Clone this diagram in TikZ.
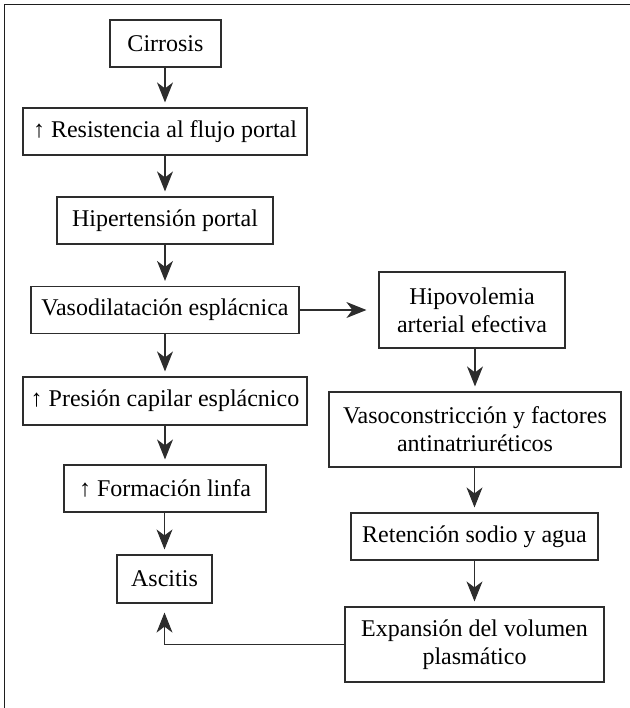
\documentclass[tikz,border=0pt]{standalone}
\usepackage{fontspec}
\setmainfont{Liberation Serif}
\usepackage{tikz}
\usetikzlibrary{arrows.meta}
\definecolor{boxline}{RGB}{45,45,45}
\definecolor{frameline}{RGB}{30,30,30}

\begin{document}
\begin{tikzpicture}[x=0.5pt, y=-0.5pt,
  box/.style={draw=boxline, line width=0.6pt, minimum height=23.5pt, inner sep=0pt,
    align=center, font=\fontsize{12}{14}\selectfont},
  flow/.style={draw=boxline, line width=0.6pt, shorten >=2.5pt,
    -{Stealth[length=10pt, width=8pt, inset=3pt]}}]
  \useasboundingbox (0,0) rectangle (630,708);
  \draw[frameline, line width=0.9pt] (4.5,708) -- (4.5,4.5) -- (630,4.5);
  \node[box, minimum width=55.5pt] (cirrosis) at (165.5,43.5) {Cirrosis};
  \node[box, minimum width=142pt] (resistencia) at (165,131.5) {↑ Resistencia al flujo portal};
  \node[box, minimum width=108pt] (hipertension) at (165,220.5) {Hipertensión portal};
  \node[box, minimum width=134pt] (vasodilatacion) at (165,310) {Vasodilatación esplácnica};
  \node[box, minimum width=142pt, minimum height=24pt] (presion) at (165,401) {↑ Presión capilar esplácnico};
  \node[box, minimum width=101pt] (linfa) at (165,488.5) {↑ Formación linfa};
  \node[box, minimum width=47.5pt, minimum height=24pt] (ascitis) at (164.5,579) {Ascitis};
  \node[box, minimum width=93pt, minimum height=38pt] (hipovolemia) at (472,310) {Hipovolemia\\arterial efectiva};
  \node[box, minimum width=146pt, minimum height=37.5pt] (vasoconstriccion) at (475,429.5) {Vasoconstricción y factores\\antinatriuréticos};
  \node[box, minimum width=123.5pt] (retencion) at (474.5,536.5) {Retención sodio y agua};
  \node[box, minimum width=129.5pt, minimum height=37.5pt] (expansion) at (474.5,644.5) {Expansión del volumen\\plasmático};
  \foreach \a/\b in {cirrosis/resistencia, resistencia/hipertension, hipertension/vasodilatacion,
      vasodilatacion/presion, presion/linfa, linfa/ascitis, hipovolemia/vasoconstriccion,
      vasoconstriccion/retencion, retencion/expansion}
    \draw[flow] (\b.north |- \a.south) -- (\b.north);
  \draw[flow, shorten >=6pt] (vasodilatacion) -- (hipovolemia);
  \draw[flow, shorten >=4.5pt] (expansion.west) -- (expansion.west -| ascitis.south) -- (ascitis.south);
\end{tikzpicture}
\end{document}
